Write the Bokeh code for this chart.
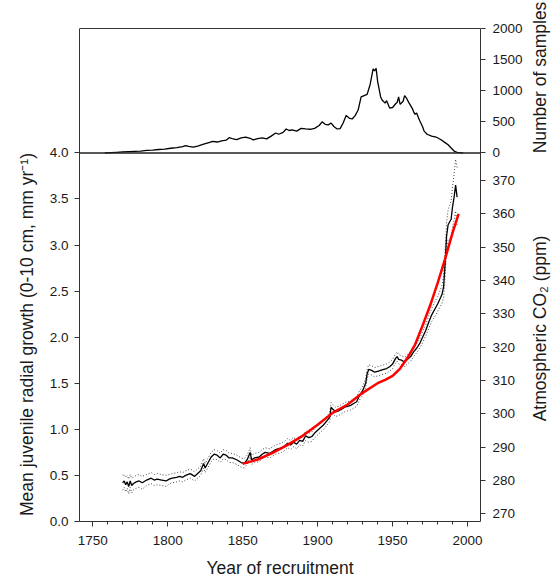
import numpy as np
from bokeh.plotting import figure
from bokeh.layouts import row
from bokeh.models import Range1d, LinearAxis, FixedTicker, Span, NumeralTickFormatter
from bokeh.core.properties import value
from bokeh.embed import file_html
from bokeh.resources import INLINE

# ---------------- data ----------------
growth_years = [
    1770, 1771, 1772, 1773, 1774, 1775, 1776, 1777, 1779, 1781,
    1783, 1786, 1789, 1791, 1793, 1796, 1799, 1801, 1803, 1806,
    1808, 1810, 1812, 1815, 1818, 1820, 1822, 1824, 1825, 1827,
    1829, 1831, 1833, 1835, 1837, 1839, 1841, 1843, 1846, 1849,
    1851, 1853, 1855, 1856, 1858, 1861, 1863, 1865, 1868, 1870,
    1872, 1874, 1876, 1878, 1880, 1882, 1884, 1886, 1888, 1890,
    1892, 1894, 1896, 1898, 1900, 1902, 1904, 1906, 1908, 1909,
    1910, 1912, 1914, 1916, 1918, 1920, 1922, 1924, 1926, 1928,
    1930, 1932, 1933, 1934, 1936, 1938, 1940, 1942, 1944, 1946,
    1948, 1950, 1952, 1953, 1954, 1956, 1958, 1960, 1962, 1964,
    1966, 1968, 1970, 1972, 1974, 1976, 1978, 1980, 1982, 1983,
    1984, 1985, 1986, 1987, 1988, 1989, 1990, 1991, 1992, 1993,
]
growth_mean = [
    0.42, 0.44, 0.40, 0.43, 0.38, 0.44, 0.39, 0.41, 0.43, 0.44,
    0.42, 0.45, 0.47, 0.45, 0.46, 0.45, 0.44, 0.46, 0.47, 0.48,
    0.49, 0.48, 0.50, 0.52, 0.49, 0.52, 0.55, 0.63, 0.58, 0.64,
    0.70, 0.73, 0.72, 0.69, 0.73, 0.72, 0.69, 0.69, 0.67, 0.64,
    0.63, 0.67, 0.75, 0.67, 0.69, 0.70, 0.73, 0.75, 0.74, 0.76,
    0.78, 0.79, 0.80, 0.82, 0.85, 0.83, 0.86, 0.84, 0.88, 0.87,
    0.93, 0.91, 0.92, 0.96, 0.99, 1.02, 1.05, 1.09, 1.13, 1.24,
    1.22, 1.19, 1.20, 1.22, 1.24, 1.25, 1.26, 1.28, 1.30, 1.37,
    1.42, 1.50, 1.60, 1.65, 1.64, 1.62, 1.63, 1.64, 1.65, 1.66,
    1.68, 1.71, 1.77, 1.79, 1.76, 1.75, 1.73, 1.76, 1.79, 1.84,
    1.88, 1.93, 2.00, 2.07, 2.16, 2.24, 2.30, 2.36, 2.43, 2.47,
    2.55, 2.80, 3.10, 3.22, 3.25, 3.28, 3.42, 3.52, 3.65, 3.52,
]
growth_ci = [
    0.08, 0.07, 0.08, 0.07, 0.08, 0.07, 0.08, 0.07, 0.07, 0.07,
    0.07, 0.06, 0.06, 0.06, 0.06, 0.06, 0.06, 0.05, 0.05, 0.05,
    0.05, 0.05, 0.05, 0.05, 0.05, 0.05, 0.05, 0.05, 0.05, 0.05,
    0.05, 0.05, 0.05, 0.05, 0.05, 0.05, 0.05, 0.05, 0.05, 0.05,
    0.05, 0.05, 0.05, 0.05, 0.05, 0.05, 0.05, 0.05, 0.05, 0.05,
    0.05, 0.05, 0.05, 0.05, 0.05, 0.05, 0.05, 0.05, 0.05, 0.05,
    0.05, 0.05, 0.05, 0.05, 0.05, 0.05, 0.05, 0.05, 0.05, 0.05,
    0.05, 0.05, 0.05, 0.05, 0.05, 0.05, 0.05, 0.05, 0.05, 0.05,
    0.05, 0.05, 0.05, 0.05, 0.05, 0.05, 0.05, 0.05, 0.05, 0.05,
    0.05, 0.05, 0.05, 0.05, 0.05, 0.05, 0.05, 0.05, 0.05, 0.05,
    0.05, 0.05, 0.06, 0.06, 0.07, 0.07, 0.08, 0.08, 0.09, 0.10,
    0.12, 0.14, 0.15, 0.16, 0.18, 0.20, 0.22, 0.25, 0.28, 0.32,
]

co2_years = [1850, 1860, 1870, 1880, 1890, 1900, 1910, 1920, 1930, 1940,
             1945, 1950, 1955, 1960, 1965, 1970, 1975, 1980, 1985, 1990, 1994]
co2_ppm = [285.0, 286.3, 288.3, 290.7, 293.4, 296.7, 300.3, 302.8, 306.3, 309.2,
           310.2, 311.4, 313.6, 316.9, 320.8, 326.5, 332.5, 339.2, 346.5, 354.4, 360.0]

sample_years = [
    1758, 1762, 1766, 1770, 1774, 1778, 1782, 1786, 1790, 1794,
    1798, 1802, 1806, 1810, 1812, 1814, 1817, 1820, 1824, 1828,
    1830, 1833, 1836, 1839, 1841, 1843, 1846, 1849, 1852, 1855,
    1857, 1860, 1863, 1866, 1869, 1872, 1874, 1877, 1879, 1881,
    1883, 1886, 1889, 1892, 1895, 1898, 1901, 1903, 1905, 1907,
    1909, 1911, 1913, 1915, 1917, 1919, 1921, 1923, 1925, 1927,
    1929, 1931, 1933, 1935, 1937, 1938, 1939, 1940, 1942, 1943,
    1945, 1946, 1948, 1950, 1952, 1953, 1954, 1955, 1957, 1958,
    1959, 1961, 1963, 1964, 1965, 1966, 1968, 1970, 1971, 1973,
    1976, 1979, 1982, 1985, 1987, 1989, 1991, 1993, 1995, 1997,
]
sample_counts = [
    0, 5, 10, 15, 20, 25, 30, 40, 45, 55,
    62, 75, 85, 100, 118, 105, 92, 110, 140, 170,
    185, 175, 195, 205, 245, 230, 215, 240, 255, 235,
    210, 230, 240, 225, 270, 320, 300, 330, 385, 360,
    370, 350, 395, 385, 380, 395, 440, 500, 460, 450,
    480, 420, 385, 390, 480, 600, 560, 545, 600, 690,
    900, 920, 940, 1100, 1350, 1320, 1360, 1150, 900, 850,
    800, 840, 720, 730, 790, 810, 900, 780, 830, 920,
    890, 800, 720, 660, 620, 640, 520, 420, 350, 300,
    270, 255, 215, 165, 130, 80, 30, 10, 3, 0,
]

x_ticks = [1750, 1800, 1850, 1900, 1950, 2000]
x_minor = [1740, 1760, 1770, 1780, 1790, 1810, 1820, 1830, 1840, 1860, 1870, 1880,
           1890, 1910, 1920, 1930, 1940, 1960, 1970, 1980, 1990, 2010]
growth_ticks = [0.0, 0.5, 1.0, 1.5, 2.0, 2.5, 3.0, 3.5, 4.0]
co2_ticks = [270, 280, 290, 300, 310, 320, 330, 340, 350, 360, 370]
sample_ticks = [0, 500, 1000, 1500, 2000]

left_title = "Mean juvenile radial growth (0-10 cm, mm yr\u207b\u00b9)"
samples_title = "Number of samples"
co2_title = "Atmospheric CO\u2082 (ppm)"
x_title = "Year of recruitment"

# ---------------- layout ----------------
H = 581
LW, MW, RW = 38, 487, 26          # left title strip, main plot, right title strip
BL, BR, BB = 41, 44, 60           # main plot borders (frame reaches the top of the canvas)
FRAME_H = H - BB                  # 521 px
PX_PER_UNIT = 92.15               # pixels per growth unit
Y_FULL = FRAME_H / PX_PER_UNIT    # growth-units value at the canvas top
Y_TOP = (FRAME_H - 28) / PX_PER_UNIT  # top edge of the upper panel
X0, X1 = 1741.2, 2008.6
G_MAX = 4.0                       # growth value at the panel divider
CO2_0 = 267.7
CO2_PER_UNIT = 27.65              # ppm per growth unit
CO2_1 = CO2_0 + Y_FULL * CO2_PER_UNIT
S_MAX = 2000.0
S_PER_UNIT = S_MAX / (Y_TOP - G_MAX)
S_0 = -G_MAX * S_PER_UNIT
S_1 = S_0 + Y_FULL * S_PER_UNIT

FONT = "Liberation Sans"
TXT = "#1a1a1a"
AX = "#333333"
TITLE_SIZE = "17.5px"

p = figure(width=MW, height=H, x_range=Range1d(X0, X1), y_range=Range1d(0, Y_FULL),
           output_backend="svg", toolbar_location=None,
           min_border_left=BL, min_border_right=BR, min_border_top=0, min_border_bottom=BB)
p.extra_y_ranges = {"co2": Range1d(CO2_0, CO2_1), "samples": Range1d(S_0, S_1)}
p.grid.visible = False
p.outline_line_color = None


def style_axis(ax):
    ax.axis_line_color = AX
    ax.major_tick_line_color = AX
    ax.minor_tick_line_color = AX
    ax.major_tick_in = 0
    ax.major_tick_out = 5
    ax.minor_tick_in = 0
    ax.minor_tick_out = 3
    ax.major_label_text_font = FONT
    ax.major_label_text_font_size = "13.5px"
    ax.major_label_text_color = TXT
    ax.axis_label_text_font = FONT
    ax.axis_label_text_font_size = TITLE_SIZE
    ax.axis_label_text_font_style = "normal"
    ax.axis_label_text_color = TXT


xa = p.xaxis[0]
style_axis(xa)
xa.ticker = FixedTicker(ticks=x_ticks, minor_ticks=x_minor)
xa.major_label_standoff = 9
xa.axis_label = x_title
xa.axis_label_standoff = 10

ya = p.yaxis[0]
style_axis(ya)
ya.ticker = FixedTicker(ticks=growth_ticks)
ya.formatter = NumeralTickFormatter(format="0.0")
ya.major_label_standoff = 6
ya.bounds = (0, Y_TOP)


def co2_pos(c):
    return round((c - CO2_0) / CO2_PER_UNIT, 9)


def samp_pos(s):
    return round(G_MAX + s / S_PER_UNIT, 9)


r_ticks, r_labels = [], {}
for c in co2_ticks:
    pos = co2_pos(c)
    r_ticks.append(pos)
    r_labels[pos] = str(c)
for s in sample_ticks:
    pos = samp_pos(s)
    r_ticks.append(pos)
    r_labels[pos] = str(s)

ra = LinearAxis(ticker=FixedTicker(ticks=r_ticks), major_label_overrides=r_labels)
style_axis(ra)
ra.major_label_standoff = 7
ra.bounds = (0, Y_TOP)
p.add_layout(ra, "right")

# panel divider and top edge of the upper panel
p.add_layout(Span(location=G_MAX, dimension="width", line_color="#222222", line_width=1.5))
p.add_layout(Span(location=Y_TOP, dimension="width", line_color=AX, line_width=1))

# ---------------- series ----------------
gm = np.array(growth_mean)
gc = np.array(growth_ci)
p.line(growth_years, gm + gc, line_color="#444444", line_width=1, line_dash="1 2")
p.line(growth_years, gm - gc, line_color="#444444", line_width=1, line_dash="1 2")
p.line(growth_years, growth_mean, line_color="black", line_width=1.3)
p.line(co2_years, co2_ppm, line_color="#ff0000", line_width=2.5, y_range_name="co2")
p.line(sample_years, sample_counts, line_color="black", line_width=1.3, y_range_name="samples")


# ---------------- side strips holding the vertical titles ----------------
def strip(width):
    # data y equals (canvas height - pixel row), frame spans rows 0..FRAME_H
    f = figure(width=width, height=H, x_range=Range1d(0, width), y_range=Range1d(BB, H),
               output_backend="svg", toolbar_location=None,
               x_axis_type=None, y_axis_type=None,
               min_border_left=0, min_border_right=0, min_border_top=0, min_border_bottom=BB)
    f.grid.visible = False
    f.outline_line_color = None
    return f


lf = strip(LW)
lf.text(x=[26], y=[H - 334], text=[left_title], angle=np.pi / 2,
        text_align="center", text_baseline="middle",
        text_font=value(FONT), text_font_size=TITLE_SIZE, text_color=TXT)

rf = strip(RW)
rf.text(x=[14, 14], y=[H - 77, H - 328], text=[samples_title, co2_title], angle=np.pi / 2,
        text_align="center", text_baseline="middle",
        text_font=value(FONT), text_font_size=TITLE_SIZE, text_color=TXT)

layout = row(lf, p, rf, spacing=0)
open("out.html", "w").write(file_html(layout, INLINE))
